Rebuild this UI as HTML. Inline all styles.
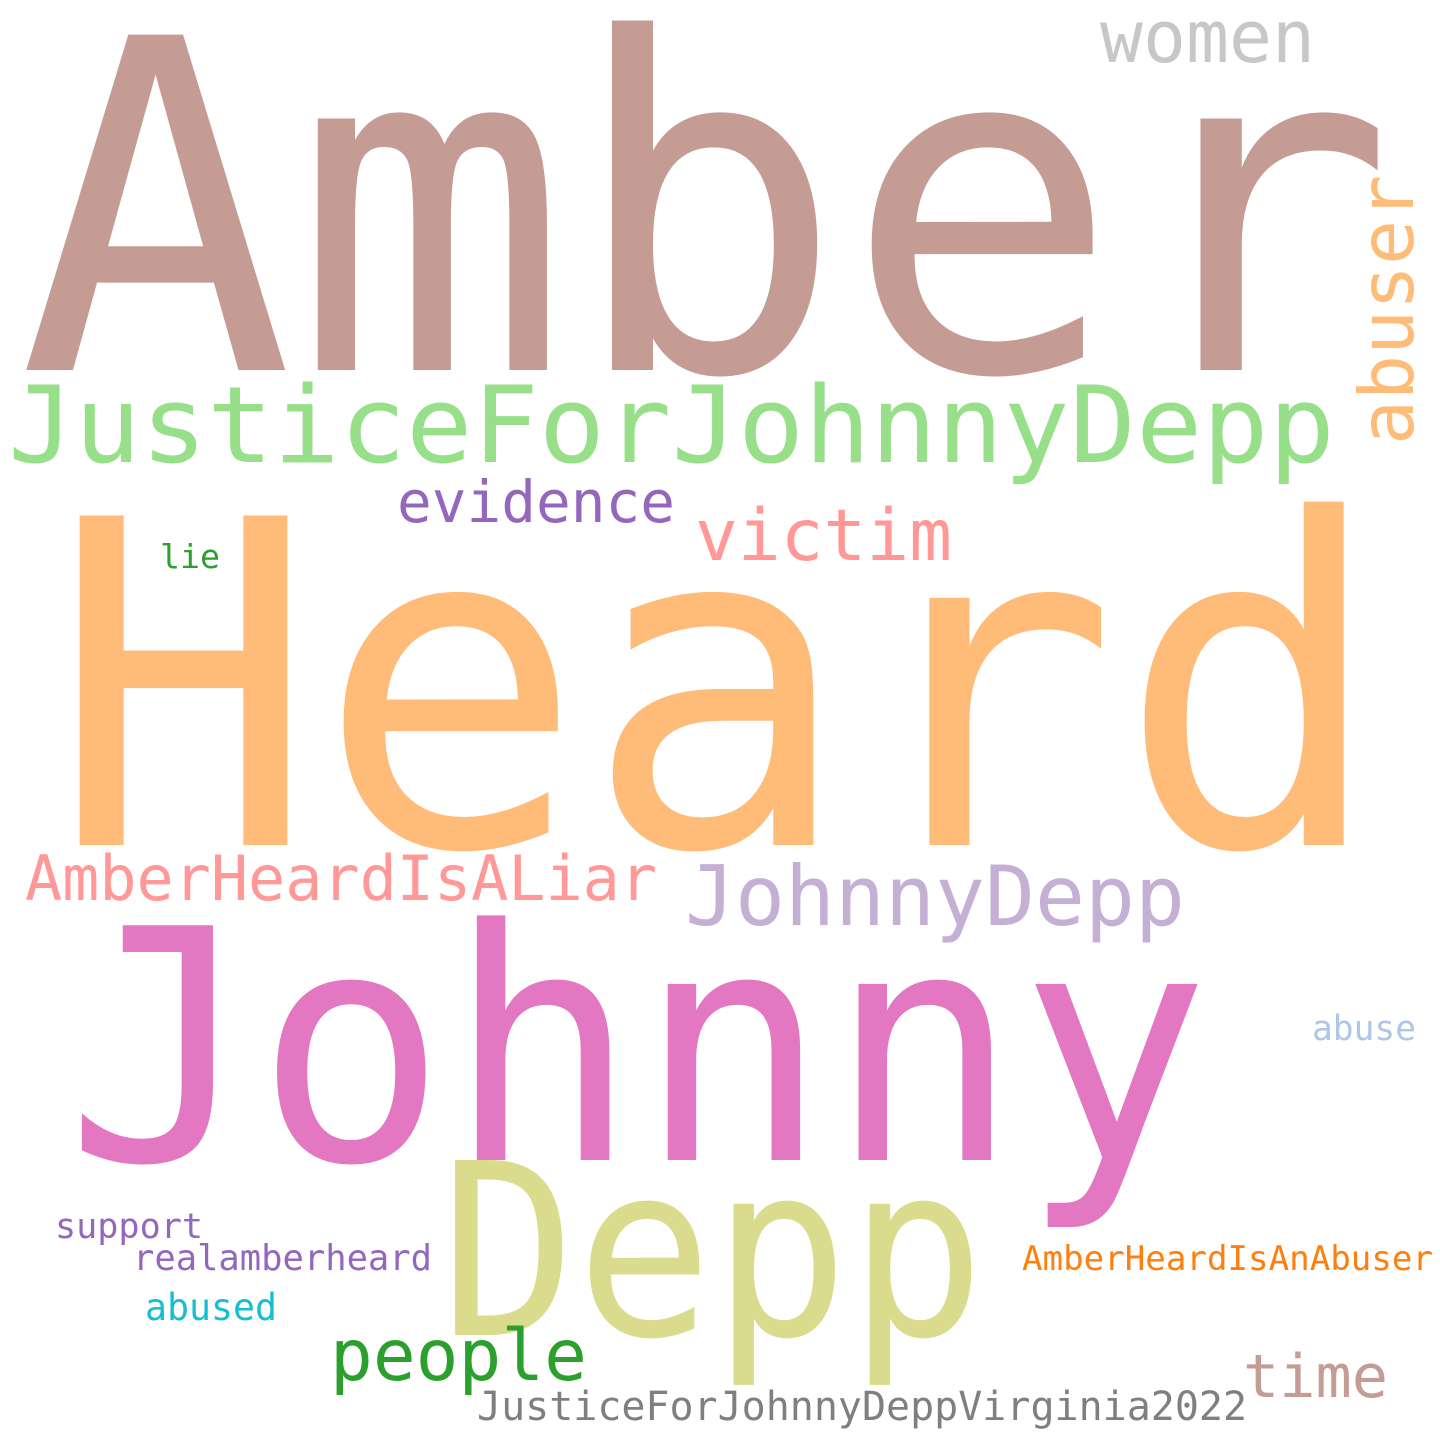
<!DOCTYPE html>
<html>
<head>
<meta charset="utf-8">
<style>
  html,body{margin:0;padding:0;background:#fff;}
  svg{display:block;}
  text{font-family:"DejaVu Sans Mono","Liberation Mono",monospace;}
</style>
</head>
<body>
<svg width="1440" height="1440" viewBox="0 0 1440 1440">
  <rect width="1440" height="1440" fill="#ffffff"/>
  <text x="18" y="370" font-size="460" fill="#c49c94" textLength="1377" lengthAdjust="spacingAndGlyphs">Amber</text>
  <text x="50" y="845" font-size="452" fill="#ffbb78" textLength="1335" lengthAdjust="spacingAndGlyphs">Heard</text>
  <text x="65" y="1160" font-size="322" fill="#e377c2" textLength="1145" lengthAdjust="spacingAndGlyphs">Johnny</text>
  <text x="440" y="1335" font-size="240" fill="#dbdb8d" textLength="545" lengthAdjust="spacingAndGlyphs">Depp</text>
  <text x="8" y="462" font-size="106" fill="#98df8a" textLength="1327" lengthAdjust="spacingAndGlyphs">JusticeForJohnnyDepp</text>
  <text transform="translate(1413,445) rotate(-90)" x="0" y="0" font-size="75" fill="#ffbb78" textLength="270" lengthAdjust="spacingAndGlyphs">abuser</text>
  <text x="1100" y="62" font-size="72" fill="#c7c7c7" textLength="215" lengthAdjust="spacingAndGlyphs">women</text>
  <text x="397" y="522" font-size="58" fill="#9467bd" textLength="278" lengthAdjust="spacingAndGlyphs">evidence</text>
  <text x="695" y="560" font-size="71" fill="#ff9896" textLength="257" lengthAdjust="spacingAndGlyphs">victim</text>
  <text x="160" y="568" font-size="33" fill="#2ca02c" textLength="60" lengthAdjust="spacingAndGlyphs">lie</text>
  <text x="25" y="900" font-size="62" fill="#ff9896" textLength="632" lengthAdjust="spacingAndGlyphs">AmberHeardIsALiar</text>
  <text x="685" y="925" font-size="83" fill="#c5b0d5" textLength="500" lengthAdjust="spacingAndGlyphs">JohnnyDepp</text>
  <text x="1312" y="1040" font-size="35" fill="#aec7e8" textLength="104" lengthAdjust="spacingAndGlyphs">abuse</text>
  <text x="55" y="1238" font-size="35" fill="#9467bd" textLength="148" lengthAdjust="spacingAndGlyphs">support</text>
  <text x="133" y="1270" font-size="36" fill="#9467bd" textLength="299" lengthAdjust="spacingAndGlyphs">realamberheard</text>
  <text x="1022" y="1270" font-size="34" fill="#ff7f0e" textLength="411" lengthAdjust="spacingAndGlyphs">AmberHeardIsAnAbuser</text>
  <text x="145" y="1320" font-size="37" fill="#17becf" textLength="132" lengthAdjust="spacingAndGlyphs">abused</text>
  <text x="330" y="1380" font-size="71" fill="#2ca02c" textLength="257" lengthAdjust="spacingAndGlyphs">people</text>
  <text x="1243" y="1397" font-size="60" fill="#c49c94" textLength="145" lengthAdjust="spacingAndGlyphs">time</text>
  <text x="477" y="1420" font-size="40" fill="#7f7f7f" textLength="770" lengthAdjust="spacingAndGlyphs">JusticeForJohnnyDeppVirginia2022</text>
</svg>
</body>
</html>
